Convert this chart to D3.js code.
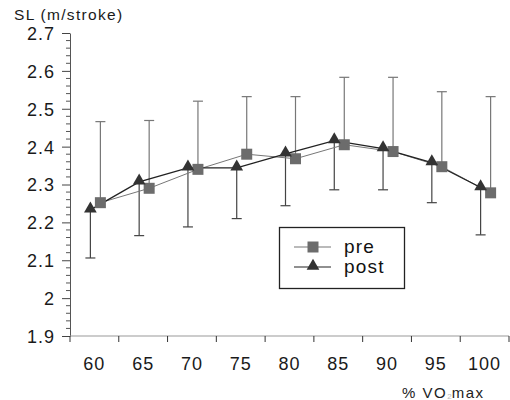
<!DOCTYPE html>
<html><head><meta charset="utf-8">
<script src="https://cdn.jsdelivr.net/npm/d3@7"></script>
<style>body{margin:0;background:#fff}svg{display:block;font-family:"Liberation Sans",Arial,sans-serif}</style>
</head><body><svg id="c" width="510" height="400"></svg>
<script>
const categories = ["60","65","70","75","80","85","90","95","100"];
const preMean  = [2.252, 2.290, 2.340, 2.380, 2.368, 2.405, 2.387, 2.347, 2.278];
const preSD    = [0.214, 0.179, 0.180, 0.152, 0.164, 0.178, 0.196, 0.198, 0.254];
const postMean = [2.233, 2.307, 2.344, 2.344, 2.381, 2.416, 2.395, 2.358, 2.292];
const postSD   = [0.127, 0.142, 0.156, 0.134, 0.137, 0.130, 0.109, 0.106, 0.125];
const yTicks = [1.9, 2, 2.1, 2.2, 2.3, 2.4, 2.5, 2.6, 2.7];
const seriesNames = ["pre", "post"];

const svg = d3.select("#c");
const x = d3.scaleBand().domain(categories).range([70, 509]).padding(0);
const y = d3.scaleLinear().domain([1.9, 2.7]).range([336, 33]);
const cx = c => x(c) + x.bandwidth() / 2;
const preX = c => cx(c) + 6, postX = c => cx(c) - 4;

// y axis
const yAxis = d3.axisLeft(y).tickValues(yTicks).tickSize(8).tickSizeOuter(0).tickPadding(7)
  .tickFormat(d => d3.format("")(+d.toFixed(1)));
const ga = svg.append("g").attr("transform", "translate(70,0)").call(yAxis);
ga.select(".domain").attr("stroke", "#555");
ga.selectAll(".tick line").attr("stroke", "#444");
ga.selectAll("text").attr("font-size", 18).attr("fill", "#1a1a1a").attr("letter-spacing", 1).attr("dy", "0.36em");
const minor = d3.range(1.9, 2.7001, 0.02).filter(v => Math.abs(v * 10 - Math.round(v * 10)) > 1e-6);
svg.append("g").selectAll("line").data(minor).join("line")
  .attr("x1", 66).attr("x2", 70).attr("y1", d => y(d)).attr("y2", d => y(d))
  .attr("stroke", "#555");

// x axis
const edges = categories.map(c => x(c)).concat([x.range()[1]]);
svg.append("line").attr("x1", 70).attr("x2", 509).attr("y1", 336).attr("y2", 336).attr("stroke", "#999").attr("stroke-width", 1.2);
svg.append("g").selectAll("line").data(edges).join("line")
  .attr("x1", d => d).attr("x2", d => d).attr("y1", 336).attr("y2", 342).attr("stroke", "#333");
svg.append("g").selectAll("text").data(categories).join("text")
  .attr("x", d => cx(d)).attr("y", 370).attr("text-anchor", "middle")
  .attr("font-size", 18).attr("letter-spacing", 1).attr("fill", "#1a1a1a").text(d => d);

// error bars
const preCol = "#6c6c6c", postCol = "#333";
const eb = svg.append("g");
categories.forEach((c, i) => {
  const xp = preX(c), yt = y(preMean[i] + preSD[i]);
  eb.append("line").attr("x1", xp).attr("x2", xp).attr("y1", y(preMean[i])).attr("y2", yt).attr("stroke", "#777").attr("stroke-width", 1.2);
  eb.append("line").attr("x1", xp - 5).attr("x2", xp + 5).attr("y1", yt).attr("y2", yt).attr("stroke", "#777").attr("stroke-width", 1.2);
  const xq = postX(c), yb = y(postMean[i] - postSD[i]);
  eb.append("line").attr("x1", xq).attr("x2", xq).attr("y1", y(postMean[i])).attr("y2", yb).attr("stroke", "#444").attr("stroke-width", 1.2);
  eb.append("line").attr("x1", xq - 5).attr("x2", xq + 5).attr("y1", yb).attr("y2", yb).attr("stroke", "#444").attr("stroke-width", 1.2);
});

// lines
const line = d3.line();
svg.append("path").attr("d", line(categories.map((c, i) => [preX(c), y(preMean[i])])))
  .attr("fill", "none").attr("stroke", "#777").attr("stroke-width", 1);
svg.append("path").attr("d", line(categories.map((c, i) => [postX(c), y(postMean[i])])))
  .attr("fill", "none").attr("stroke", "#222").attr("stroke-width", 1.3);

// markers
const sq = d3.symbol().type(d3.symbolSquare).size(121);
const tri = d3.symbol().type(d3.symbolTriangle).size(70);
svg.append("g").selectAll("path").data(categories).join("path")
  .attr("d", sq).attr("transform", (c, i) => `translate(${preX(c)},${y(preMean[i])})`).attr("fill", preCol);
svg.append("g").selectAll("path").data(categories).join("path")
  .attr("d", tri).attr("transform", (c, i) => `translate(${postX(c)},${y(postMean[i]) - 1})`).attr("fill", postCol);

// titles
svg.append("text").attr("x", 14).attr("y", 20).attr("font-size", 15.5).attr("letter-spacing", 1.3).attr("fill", "#1a1a1a").text("SL (m/stroke)");
const xt = svg.append("text").attr("x", 402).attr("y", 398).attr("font-size", 15).attr("letter-spacing", 1.5).attr("fill", "#222");
xt.append("tspan").text("% VO");
xt.append("tspan").attr("font-size", 8).attr("fill", "#bbb").attr("letter-spacing", 0).attr("dy", 1).text("2");
xt.append("tspan").attr("dy", -1).text("max");

// legend
const lg = svg.append("g");
lg.append("rect").attr("x", 279.5).attr("y", 227.5).attr("width", 125).attr("height", 61).attr("fill", "#fff").attr("stroke", "#222").attr("stroke-width", 1.3);
seriesNames.forEach((n, i) => {
  const ly = 247 + i * 20;
  lg.append("line").attr("x1", 294).attr("x2", 331).attr("y1", ly).attr("y2", ly).attr("stroke", i ? "#222" : "#777").attr("stroke-width", 1.2);
  lg.append("path").attr("d", i ? tri : sq).attr("transform", `translate(313,${ly - (i ? 1 : 0)})`).attr("fill", i ? postCol : preCol);
  lg.append("text").attr("x", 344).attr("y", ly + 6).attr("font-size", 19).attr("letter-spacing", 1.2).attr("fill", "#111").text(n);
});
</script></body></html>
